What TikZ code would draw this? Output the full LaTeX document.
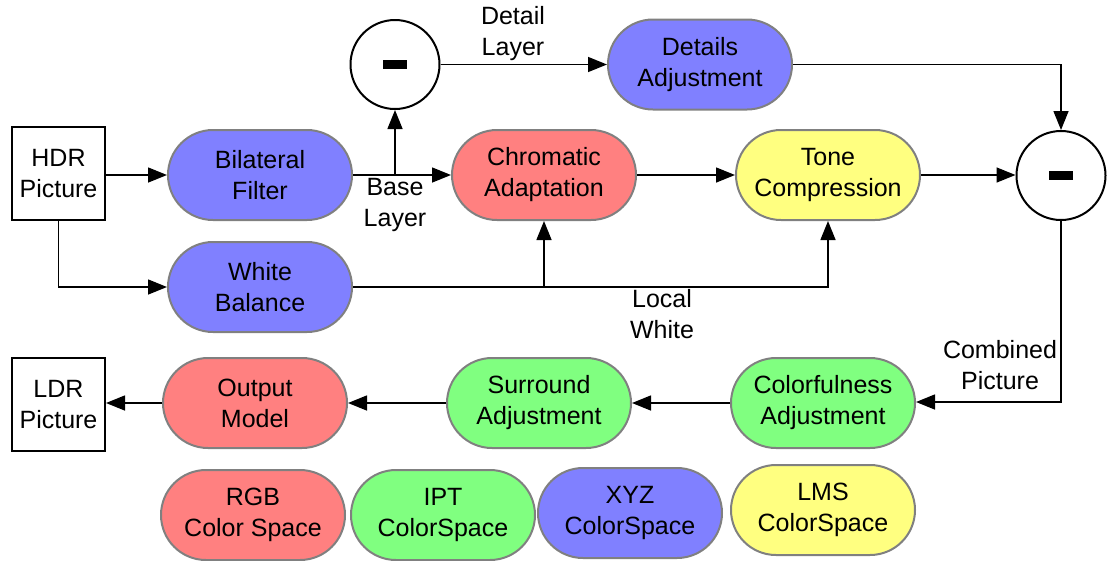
\documentclass[tikz,border=0pt]{standalone}
\usepackage{fontspec}
\setmainfont{Liberation Sans}
\usetikzlibrary{shapes.misc,arrows.meta}
\definecolor{cblue}{HTML}{8080FF}
\definecolor{cred}{HTML}{FF8080}
\definecolor{cyel}{HTML}{FFFF80}
\definecolor{cgreen}{HTML}{80FF80}
\definecolor{cgray}{HTML}{808080}
\tikzset{
  proc/.style={rounded rectangle, draw=cgray, line width=2pt, minimum width=184pt, minimum height=90pt, align=center, inner sep=0pt},
  sqbox/.style={rectangle, draw=black, line width=2pt, fill=white, minimum width=93pt, minimum height=93pt, align=center, inner sep=0pt},
  circ/.style={circle, draw=black, line width=2pt, minimum size=89pt, inner sep=0pt},
  lbl/.style={align=center, inner sep=0pt},
  conn/.style={line width=1.5pt, -{Triangle[length=19pt,width=15pt]}},
}
\begin{document}
\begin{tikzpicture}[x=1pt,y=-1pt,font=\fontsize{25}{31}\selectfont]
\useasboundingbox (0,0) rectangle (1108,560);
% nodes
\node[sqbox] (hdr) at (58.5,173.5) {HDR\\Picture};
\node[proc, fill=cblue] (bf) at (260,175) {Bilateral\\Filter};
\node[proc, fill=cblue] (wb) at (260,287) {White\\Balance};
\node[circ] (m1) at (395,64.5) {\rule{24pt}{9pt}};
\node[proc, fill=cblue] (da) at (700,64.5) {Details\\Adjustment};
\node[proc, fill=cred] (ca) at (544,175) {Chromatic\\Adaptation};
\node[proc, fill=cyel] (tc) at (828,175) {Tone\\Compression};
\node[circ] (m2) at (1061,175.5) {\rule{24pt}{9pt}};
\node[proc, fill=cgreen] (cf) at (823,403) {Colorfulness\\Adjustment};
\node[proc, fill=cgreen] (sa) at (539,403) {Surround\\Adjustment};
\node[proc, fill=cred] (om) at (255,403) {Output\\Model};
\node[sqbox] (ldr) at (58.5,404.5) {LDR\\Picture};
% legend
\node[proc, fill=cred] (rgb) at (253,515) {RGB\\Color Space};
\node[proc, fill=cgreen] (ipt) at (443,515) {IPT\\ColorSpace};
\node[proc, fill=cblue] (xyz) at (630,513) {XYZ\\ColorSpace};
\node[proc, fill=cyel] (lms) at (823,510) {LMS\\ColorSpace};
% labels
\node[lbl] (ldet) at (513,33.5) {Detail\\Layer};
\node[lbl] (lbase) at (395,205) {Base\\Layer};
\node[lbl] (lloc) at (662,314) {Local\\White};
\node[lbl] (lcomb) at (1000,365) {Combined\\Picture};
% connectors
\draw[conn] (hdr.east |- bf.west) -- (bf.west);
\draw[conn] (hdr.south) |- (wb.west);
\draw[conn] (bf.east) -- (ca.west);
\draw[conn] (m1.south |- bf.east) -- (m1.south);
\draw[conn] (m1.east) -- (da.west);
\draw[conn] (da.east) -| (m2.north);
\draw[conn] (ca.east) -- (tc.west);
\draw[conn] (tc.east) -- (m2.west |- tc.east);
\draw[conn] (wb.east) -| (ca.south);
\draw[conn] (wb.east) -| (tc.south);
\draw[conn] (m2.south) |- ([yshift=1pt]cf.east);
\draw[conn] (cf.west) -- (sa.east);
\draw[conn] (sa.west) -- (om.east);
\draw[conn] (om.west) -- (ldr.east |- om.west);
\end{tikzpicture}
\end{document}
